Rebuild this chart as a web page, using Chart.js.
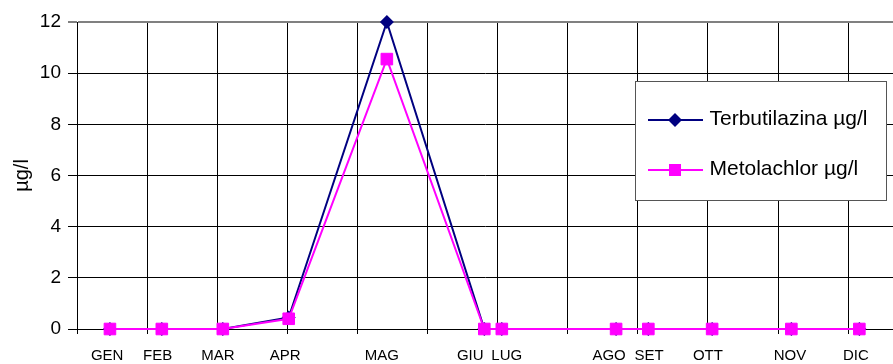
<!DOCTYPE html>
<html>
<head>
<meta charset="utf-8">
<script src="https://cdn.jsdelivr.net/npm/chart.js@4/dist/chart.umd.min.js"></script>
<style>
  html, body { margin: 0; padding: 0; background: #ffffff; }
  #wrap { width: 893px; height: 364px; position: relative; }
</style>
</head>
<body>
<div id="wrap"><canvas id="c" width="893" height="364"></canvas></div>
<script>
// ---- data ----
const months = ['GEN','FEB','MAR','APR','MAG','GIU','LUG','AGO','SET','OTT','NOV','DIC'];
// sampling positions along the time axis (grid unit = one gridline step)
const sampleX = [0.47, 1.21, 2.08, 3.02, 4.42, 5.81, 6.06, 7.69, 8.15, 9.06, 10.19, 11.16];
// positions of the month tick labels on the same axis
const labelAt = [0.43, 1.15, 2.01, 2.97, 4.35, 5.61, 6.13, 7.59, 8.16, 9.00, 10.17, 11.11];
const terbutilazina = [0, 0, 0, 0.45, 12, 0, 0, 0, 0, 0, 0, 0];
const metolachlor   = [0, 0, 0, 0.40, 10.55, 0, 0, 0, 0, 0, 0, 0];
const seriesNames = ['Terbutilazina µg/l', 'Metolachlor µg/l'];
const yTicks = [0, 2, 4, 6, 8, 10, 12];
const xGridTicks = [0,1,2,3,4,5,6,7,8,9,10,11];

const FONT = "'Liberation Sans', Arial, sans-serif";
const NAVY = '#000080';
const MAGENTA = '#FF00FF';

function icon(color, kind) {
  const c = document.createElement('canvas');
  c.width = 64; c.height = 21;
  const g = c.getContext('2d');
  g.strokeStyle = color; g.lineWidth = 2;
  g.beginPath(); g.moveTo(6, 11); g.lineTo(61, 11); g.stroke();
  g.fillStyle = color;
  if (kind === 'diamond') {
    g.beginPath(); g.moveTo(33, 4); g.lineTo(40, 11); g.lineTo(33, 18); g.lineTo(26, 11); g.closePath(); g.fill();
  } else {
    g.fillRect(27, 5, 12, 12);
  }
  return c;
}
const legendIcons = [icon(NAVY, 'diamond'), icon(MAGENTA, 'square')];

const toPts = vals => vals.map((v, i) => ({ x: sampleX[i], y: v }));

const legendBoxPlugin = {
  id: 'legendBox',
  afterLayout(chart) {
    const lg = chart.legend;
    if (!lg) return;
    lg.left = 620; lg.top = 80; lg.right = 893; lg.bottom = 330;
  },
  afterDraw(chart) {
    const ctx = chart.ctx;
    ctx.save();
    ctx.fillStyle = '#ffffff';
    ctx.fillRect(635.5, 81.5, 251, 119);
    ctx.strokeStyle = '#555555';
    ctx.lineWidth = 1;
    ctx.strokeRect(635.5, 81.5, 251, 119);
    ctx.restore();
    chart.legend.draw();
  }
};

new Chart(document.getElementById('c'), {
  type: 'line',
  data: {
    datasets: [
      {
        label: seriesNames[0], data: toPts(terbutilazina),
        borderColor: NAVY, backgroundColor: NAVY, borderWidth: 2,
        pointStyle: 'rectRot', pointRadius: 7, pointBorderWidth: 0,
        pointBackgroundColor: NAVY, tension: 0, clip: false, order: 1
      },
      {
        label: seriesNames[1], data: toPts(metolachlor),
        borderColor: MAGENTA, backgroundColor: MAGENTA, borderWidth: 2,
        pointStyle: 'rect', pointRadius: 8.2, pointBorderWidth: 1,
        pointBackgroundColor: MAGENTA, pointBorderColor: MAGENTA, tension: 0, clip: false, order: 0
      }
    ]
  },
  options: {
    responsive: false,
    animation: false,
    devicePixelRatio: 1,
    layout: { autoPadding: false, padding: { top: 22, left: 0, right: 0, bottom: 0 } },
    plugins: {
      tooltip: { enabled: false },
      legend: {
        display: true,
        position: 'chartArea',
        align: 'start',
        labels: {
          usePointStyle: true,
          pointStyleWidth: 50,
          padding: 29,
          color: '#000000',
          font: { family: FONT, size: 21 },
          generateLabels: (chart) => chart.data.datasets.map((ds, i) => ({
            text: ds.label, pointStyle: legendIcons[i], fillStyle: ds.borderColor,
            strokeStyle: ds.borderColor, fontColor: '#000000', lineWidth: 0, hidden: false, datasetIndex: i
          }))
        }
      }
    },
    scales: {
      x: {
        type: 'linear', position: 'bottom', min: 0, max: 11.64, weight: 0,
        afterBuildTicks: (ax) => { ax.ticks = xGridTicks.map(v => ({ value: v })); },
        afterFit: (ax) => { ax.height = 5; },
        ticks: { display: false },
        grid: { color: '#000000', lineWidth: 1, drawTicks: true, tickLength: 5, tickColor: '#000000' },
        border: { display: true, color: '#000000', width: 1 }
      },
      xl: {
        type: 'linear', position: 'bottom', min: 0, max: 11.64, weight: 1,
        afterBuildTicks: (ax) => { ax.ticks = labelAt.map(v => ({ value: v })); },
        afterFit: (ax) => { ax.height = 30; },
        ticks: {
          autoSkip: false, maxRotation: 0, minRotation: 0, padding: 13,
          color: '#000000', font: { family: FONT, size: 15 },
          callback: (v, i) => months[i]
        },
        grid: { display: false, drawTicks: false },
        border: { display: false }
      },
      y: {
        type: 'linear', position: 'left', min: 0, max: 12,
        afterBuildTicks: (ax) => { ax.ticks = yTicks.map(v => ({ value: v })); },
        afterFit: (ax) => { ax.width = 77; },
        ticks: { padding: 7, color: '#000000', font: { family: FONT, size: 19 } },
        grid: {
          color: (c) => (c.tick && c.tick.value === 12) ? '#808080' : '#000000',
          lineWidth: (c) => (c.tick && c.tick.value === 12) ? 2 : 1,
          drawTicks: true, tickLength: 9, tickColor: '#000000', tickWidth: 1
        },
        border: { display: true, color: '#000000', width: 1 },
        title: {
          display: true, text: 'µg/l', color: '#000000',
          font: { family: FONT, size: 20 }, padding: { top: 10, bottom: 0 }
        }
      }
    }
  },
  plugins: [legendBoxPlugin]
});
</script>
</body>
</html>
